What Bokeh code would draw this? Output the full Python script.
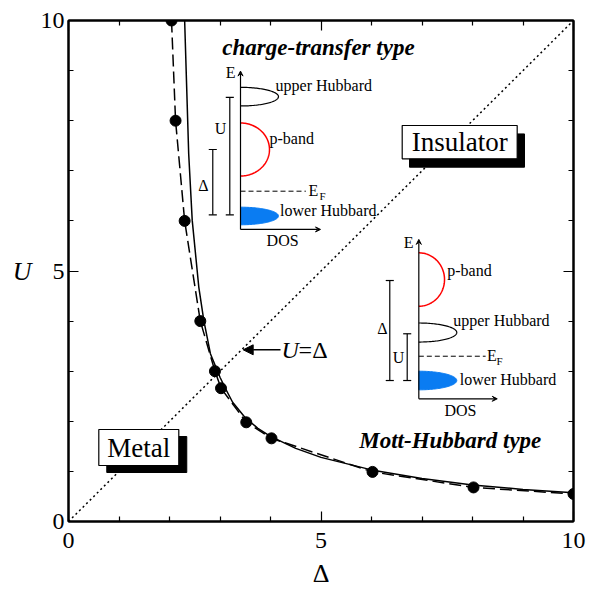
import numpy as np
from bokeh.plotting import figure
from bokeh.models import Range1d, LinearAxis, FixedTicker, Label, Arrow, NormalHead, VeeHead
from bokeh.embed import file_html
from bokeh.resources import INLINE

# ---------------- data ----------------
delta_pts = [2.04, 2.12, 2.30, 2.61, 2.90, 3.02, 3.52, 4.02, 6.02, 8.02, 10.0]
u_pts = [10.0, 8.0, 6.0, 4.0, 3.0, 2.66, 1.98, 1.66, 0.99, 0.68, 0.55]

delta_curve = [2.30, 2.34, 2.38, 2.45, 2.58, 2.68, 2.81, 2.92, 3.00, 3.10, 3.25,
               3.50, 3.75, 4.00, 4.50, 5.00, 6.00, 7.00, 8.00, 9.00, 10.0]
u_curve = [10.0, 8.67, 7.34, 6.01, 4.68, 4.01, 3.35, 3.08, 2.88, 2.67, 2.38,
           2.07, 1.86, 1.70, 1.46, 1.28, 1.03, 0.86, 0.73, 0.64, 0.575]

diag_x = [0, 10]
diag_y = [0, 10]

major_ticks = [0, 5, 10]
minor_ticks = [1, 2, 3, 4, 6, 7, 8, 9]
x_title = "Δ"
y_title = "U"

SERIF = "Liberation Serif"
AXFONT = "Liberation Serif"
BLUE = "#0a7cf2"
RED = "#ff0000"

p = figure(frame_width=505, frame_height=501,
           x_range=Range1d(0, 10), y_range=Range1d(0, 10),
           output_backend="svg", toolbar_location=None,
           min_border_left=68, min_border_right=28,
           min_border_top=20, min_border_bottom=77)
p.grid.visible = False
p.outline_line_color = "black"
p.outline_line_width = 2
p.background_fill_color = "white"
p.border_fill_color = "white"


def style_axis(ax, labels=True):
    ax.ticker = FixedTicker(ticks=major_ticks, minor_ticks=minor_ticks)
    ax.major_tick_in = 10
    ax.major_tick_out = 0
    ax.minor_tick_in = 5
    ax.minor_tick_out = 0
    ax.axis_line_color = "black"
    ax.axis_line_width = 2
    ax.major_tick_line_color = "black"
    ax.minor_tick_line_color = "black"
    ax.major_tick_line_width = 1.2
    ax.minor_tick_line_width = 1.2
    ax.major_label_text_font = AXFONT
    ax.major_label_text_color = "black"
    if labels:
        ax.major_label_text_font_size = "24px"
    else:
        ax.major_label_overrides = {t: "" for t in major_ticks}
        ax.major_label_text_font_size = "6px"
        ax.major_label_standoff = 0


xa = p.xaxis[0]
ya = p.yaxis[0]
style_axis(xa)
style_axis(ya)
xa.major_label_standoff = 11
ya.major_label_standoff = 4

xa.axis_label = x_title
xa.axis_label_text_font = AXFONT
xa.axis_label_text_font_style = "normal"
xa.axis_label_text_font_size = "26px"
xa.axis_label_text_color = "black"
xa.axis_label_standoff = 8

ya.axis_label = y_title
ya.axis_label_text_font = AXFONT
ya.axis_label_text_font_style = "italic"
ya.axis_label_text_font_size = "26px"
ya.axis_label_text_color = "black"
ya.axis_label_standoff = 6
if "axis_label_orientation" in ya.properties():
    ya.axis_label_orientation = "horizontal"

top_ax = LinearAxis()
right_ax = LinearAxis()
style_axis(top_ax, labels=False)
style_axis(right_ax, labels=False)
p.add_layout(top_ax, "above")
p.add_layout(right_ax, "right")

# diagonal U = Delta
p.line(diag_x, diag_y, line_color="black", line_width=1.5, line_dash="2 3")

# curves
p.line(delta_curve, u_curve, line_color="black", line_width=1.5)
p.line(delta_pts, u_pts, line_color="black", line_width=1.5, line_dash="12 5")
p.scatter(delta_pts, u_pts, size=11, fill_color="black", line_color="black")


def half_ellipse(x0, yc, w, hh, n=80):
    t = np.linspace(0, np.pi, n)
    return list(x0 + w * np.sin(t)), list(yc + hh * np.cos(t))


def txt(x, y, s, size="16px", align="left", style="normal", xo=0, yo=0):
    p.add_layout(Label(x=x, y=y, text=s, text_font=SERIF, text_font_size=size,
                       text_align=align, text_baseline="middle", text_color="black",
                       text_font_style=style, x_offset=xo, y_offset=yo))


def bar(x, y0, y1, cap=0.08):
    p.segment([x, x - cap, x - cap], [y0, y0, y1], [x, x + cap, x + cap], [y1, y0, y1],
              line_color="black", line_width=1.2)


def inset(ax_x, ax_y0, ax_y1, dos_x1, bands, ef_y, ef_x1, bars, lab):
    p.add_layout(Arrow(end=VeeHead(size=5, line_color="black", line_width=1),
                       x_start=ax_x, y_start=ax_y0, x_end=ax_x, y_end=ax_y1,
                       line_color="black", line_width=1.2))
    p.add_layout(Arrow(end=VeeHead(size=5, line_color="black", line_width=1),
                       x_start=ax_x, y_start=ax_y0, x_end=dos_x1, y_end=ax_y0,
                       line_color="black", line_width=1.2))
    for kind, yc, w, hh in bands:
        xs, ys = half_ellipse(ax_x, yc, w, hh)
        if kind == "lower":
            p.patch(xs, ys, fill_color=BLUE, line_color=BLUE, line_width=1)
        elif kind == "p":
            p.line(xs, ys, line_color=RED, line_width=1.5)
        else:
            p.line(xs, ys, line_color="black", line_width=1.2)
    p.line([ax_x, ef_x1], [ef_y, ef_y], line_color="black", line_width=1, line_dash="5 3")
    for bx, by0, by1 in bars:
        bar(bx, by0, by1)
    for (x, y, s, size, align, style) in lab:
        txt(x, y, s, size, align, style)


F = "16px"
# charge-transfer inset
inset(3.406, 5.83, 8.99, 4.99,
      [("upper", 8.48, 0.752, 0.186), ("p", 7.425, 0.574, 0.529), ("lower", 6.098, 0.752, 0.176)],
      6.593, 4.70,
      [(3.194, 6.122, 8.465), (2.857, 6.122, 7.425)],
      [(3.21, 8.96, "E", F, "center", "normal"),
       (4.24, 5.60, "DOS", F, "center", "normal"),
       (4.10, 8.70, "upper Hubbard", F, "left", "normal"),
       (3.98, 7.64, "p-band", F, "left", "normal"),
       (4.19, 6.20, "lower Hubbard", F, "left", "normal"),
       (3.01, 7.84, "U", F, "center", "normal"),
       (2.673, 6.71, "Δ", F, "center", "normal"),
       (4.75, 6.607, "E", F, "left", "normal"),
       (4.97, 6.50, "F", "11px", "left", "normal"),
       (4.95, 9.46, "charge-transfer type", "23px", "center", "bold italic")])

# Mott-Hubbard inset
inset(6.937, 2.449, 5.63, 8.49,
      [("p", 4.830, 0.509, 0.533), ("upper", 3.772, 0.752, 0.19), ("lower", 2.814, 0.752, 0.186)],
      3.299, 8.26,
      [(6.362, 2.814, 4.810), (6.707, 2.814, 3.747)],
      [(6.733, 5.575, "E", F, "center", "normal"),
       (7.762, 2.21, "DOS", F, "center", "normal"),
       (7.499, 5.01, "p-band", F, "left", "normal"),
       (7.618, 4.012, "upper Hubbard", F, "left", "normal"),
       (7.749, 2.828, "lower Hubbard", F, "left", "normal"),
       (6.218, 3.852, "Δ", F, "center", "normal"),
       (6.535, 3.279, "U", F, "center", "normal"),
       (8.287, 3.313, "E", F, "left", "normal"),
       (8.475, 3.21, "F", "11px", "left", "normal"),
       (7.56, 1.617, "Mott-Hubbard type", "23px", "center", "bold italic")])

# U = Delta arrow
p.add_layout(Arrow(end=NormalHead(size=10, fill_color="black", line_color="black"),
                   x_start=4.198, y_start=3.427, x_end=3.459, y_end=3.427,
                   line_color="black", line_width=1.5))
txt(4.22, 3.427, "U", "24px", "left", "italic")
txt(4.22, 3.427, "=Δ", "24px", "left", "normal", xo=17)


# labelled boxes with shadows
def box(l, r, b, t, dx, dy, s):
    p.quad(left=[l + dx], right=[r + dx], bottom=[b - dy], top=[t - dy],
           fill_color="black", line_color="black")
    p.quad(left=[l], right=[r], bottom=[b], top=[t],
           fill_color="white", line_color="black", line_width=1.2)
    txt((l + r) / 2, (b + t) / 2, s, "27px", "center")


box(0.60, 2.184, 1.118, 1.836, 0.158, 0.14, "Metal")
box(6.608, 8.885, 7.240, 7.904, 0.145, 0.168, "Insulator")

open("out.html", "w").write(file_html(p, INLINE))
